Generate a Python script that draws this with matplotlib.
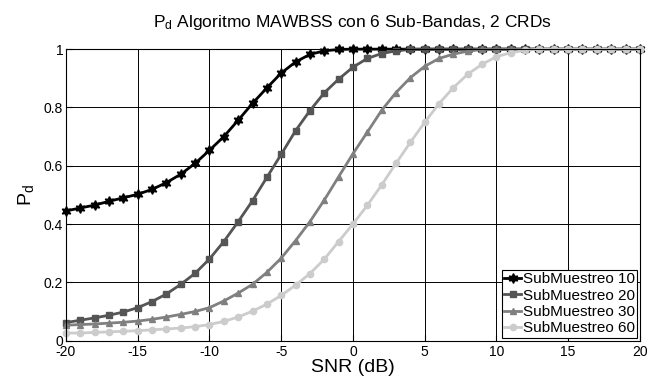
import matplotlib
matplotlib.use('Agg')
from matplotlib import pyplot as plt

plt.rcParams['font.family'] = ['Liberation Sans', 'DejaVu Sans']
plt.rcParams['mathtext.fontset'] = 'custom'
plt.rcParams['mathtext.rm'] = 'Liberation Sans'
plt.rcParams['mathtext.it'] = 'Liberation Sans'
plt.rcParams['axes.unicode_minus'] = False

snr = list(range(-20, 21))

sub10 = [0.445, 0.455, 0.465, 0.478, 0.49, 0.502, 0.519, 0.542, 0.571, 0.608,
         0.653, 0.70, 0.756, 0.814, 0.867, 0.918, 0.956, 0.982, 0.994, 0.999] + [1.0] * 21
sub20 = [0.062, 0.070, 0.078, 0.087, 0.098, 0.113, 0.134, 0.16, 0.193, 0.231,
         0.28, 0.34, 0.408, 0.48, 0.56, 0.639, 0.72, 0.789, 0.85, 0.897,
         0.938, 0.968, 0.985, 0.994, 0.999] + [1.0] * 16
sub30 = [0.053, 0.055, 0.057, 0.060, 0.063, 0.067, 0.073, 0.081, 0.09, 0.10,
         0.113, 0.136, 0.163, 0.193, 0.234, 0.283, 0.343, 0.408, 0.482, 0.562,
         0.641, 0.715, 0.79, 0.851, 0.902, 0.941, 0.968, 0.983, 0.993, 0.999] + [1.0] * 11
sub60 = [0.026, 0.026, 0.028, 0.03, 0.032, 0.034, 0.037, 0.04, 0.043, 0.048,
         0.055, 0.066, 0.081, 0.101, 0.125, 0.155, 0.19, 0.23, 0.279, 0.34,
         0.40, 0.464, 0.534, 0.608, 0.68, 0.749, 0.813, 0.868, 0.914, 0.948,
         0.974, 0.988, 0.996] + [1.0] * 8

series = [
    ('SubMuestreo 10', sub10, '#000000', (6, 1, 0), 7),
    ('SubMuestreo 20', sub20, '#555555', 's', 4.5),
    ('SubMuestreo 30', sub30, '#808080', '^', 5),
    ('SubMuestreo 60', sub60, '#cccccc', 'o', 4.5),
]

fig = plt.figure(figsize=(6.47, 3.81), dpi=100)
ax = fig.add_axes([0.102, 0.106, 0.887, 0.765])

for label, vals, color, marker, ms in series:
    ax.plot(snr, vals, color=color, marker=marker, markersize=ms, linewidth=2,
            markeredgecolor=color, markerfacecolor=color, label=label, clip_on=False)

ax.set_xlim(-20, 20)
ax.set_ylim(0, 1)
ax.set_xticks([-20, -15, -10, -5, 0, 5, 10, 15, 20])
ax.set_yticks([0, 0.2, 0.4, 0.6, 0.8, 1])
ax.set_yticklabels(['0', '0.2', '0.4', '0.6', '0.8', '1'])
ax.tick_params(direction='in', labelsize=10, length=4, pad=2)
ax.tick_params(axis='x', pad=3)
ax.grid(True, color='black', linewidth=0.7)
ax.set_axisbelow(True)
for s in ax.spines.values():
    s.set_linewidth(0.8)

ax.set_title(r'P$_\mathrm{d}$ Algoritmo MAWBSS con 6 Sub-Bandas, 2 CRDs', fontsize=12.5, pad=16)
ax.set_xlabel('SNR (dB)', fontsize=14, labelpad=0)
ax.set_ylabel(r'P$_\mathrm{d}$', fontsize=14, labelpad=6)

leg = ax.legend(loc='lower right', fontsize=11, fancybox=False, framealpha=1,
                edgecolor='black', borderpad=0.15, labelspacing=0.15,
                handlelength=1.1, handletextpad=0.1, borderaxespad=0.2)
leg.get_frame().set_linewidth(0.8)

plt.savefig('out.png', dpi=100)
